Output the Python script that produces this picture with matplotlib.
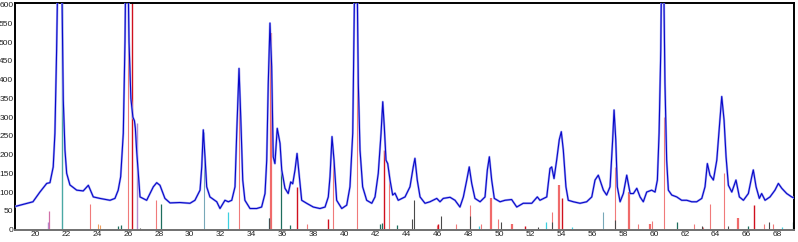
import matplotlib
matplotlib.use("Agg")
import matplotlib.pyplot as plt
import numpy as np

plt.rcParams['font.family'] = ['Liberation Sans', 'DejaVu Sans']

# ---- measured XRD pattern (2theta, counts) ----
two_theta = [18.77, 19.87, 20.32, 20.76, 20.97, 21.18, 21.29, 21.40, 21.58, 21.75, 21.83, 21.94, 22.05,
             22.26, 22.70, 23.12, 23.45, 23.77, 24.20, 24.85, 25.17, 25.38, 25.54, 25.71, 25.82, 25.93,
             26.08, 26.20, 26.33, 26.43, 26.49, 26.57, 26.79, 27.22, 27.65, 27.87, 28.08, 28.40, 28.73,
             29.37, 30.02, 30.34, 30.56, 30.67, 30.78, 30.88, 30.99, 31.10, 31.31, 31.75, 31.96, 32.28,
             32.50, 32.72, 32.93, 33.04, 33.19, 33.30, 33.43, 33.57, 33.90, 34.33, 34.65, 34.87, 34.98,
             35.08, 35.19, 35.30, 35.40, 35.51, 35.66, 35.84, 35.95, 36.16, 36.37, 36.53, 36.66, 36.81,
             36.94, 37.07, 37.24, 37.56, 37.99, 38.42, 38.75, 38.96, 39.07, 39.20, 39.33, 39.50, 39.83,
             40.15, 40.36, 40.54, 40.62, 40.75, 40.90, 41.01, 41.18, 41.44, 41.77, 41.98, 42.19, 42.37,
             42.48, 42.58, 42.69, 42.80, 42.95, 43.12, 43.27, 43.48, 43.92, 44.24, 44.45, 44.56, 44.71,
             44.89, 45.21, 45.53, 45.97, 46.18, 46.39, 46.83, 47.15, 47.47, 47.69, 47.91, 48.07, 48.23,
             48.44, 48.77, 49.09, 49.24, 49.37, 49.52, 49.69, 50.06, 50.38, 50.81, 51.14, 51.56, 52.11,
             52.47, 52.64, 53.08, 53.29, 53.40, 53.55, 53.72, 53.89, 54.02, 54.15, 54.32, 54.47, 54.80,
             55.23, 55.66, 55.99, 56.20, 56.41, 56.52, 56.74, 56.95, 57.17, 57.34, 57.43, 57.54, 57.64,
             57.82, 58.03, 58.25, 58.47, 58.68, 58.90, 59.11, 59.32, 59.54, 59.86, 60.08, 60.23, 60.34,
             60.45, 60.56, 60.72, 60.83, 60.94, 61.16, 61.48, 61.80, 62.13, 62.45, 62.77, 63.10, 63.31,
             63.46, 63.63, 63.85, 64.07, 64.24, 64.39, 64.54, 64.67, 64.82, 65.04, 65.31, 65.53, 65.79,
             66.11, 66.33, 66.43, 66.61, 66.82, 66.97, 67.19, 67.51, 67.83, 68.05, 68.27, 68.59, 68.91,
             69.13]
counts = [62, 74, 100, 123, 125, 167, 257, 480, 950, 620, 346, 212, 150,
          119, 105, 103, 118, 87, 83, 78, 83, 105, 141, 257, 503, 950,
          500, 350, 300, 290, 270, 212, 87, 78, 114, 125, 118, 83, 71,
          72, 70, 78, 96, 105, 167, 266, 194, 114, 87, 74, 56, 78,
          74, 78, 114, 257, 430, 301, 132, 78, 56, 56, 60, 96, 185,
          391, 551, 435, 194, 176, 270, 230, 159, 110, 96, 127, 122, 159,
          203, 150, 78, 70, 60, 56, 60, 87, 141, 248, 185, 78, 56,
          65, 114, 257, 524, 950, 390, 212, 114, 78, 70, 87, 150, 257,
          341, 274, 185, 176, 132, 92, 97, 78, 87, 114, 167, 190, 132,
          87, 70, 74, 83, 74, 83, 86, 78, 60, 87, 132, 167, 123,
          83, 74, 87, 159, 194, 132, 83, 74, 78, 80, 60, 70, 70,
          87, 78, 87, 163, 167, 136, 185, 240, 261, 212, 114, 78, 74,
          70, 74, 87, 132, 145, 132, 105, 92, 114, 240, 319, 240, 114,
          74, 96, 145, 96, 96, 110, 87, 74, 100, 105, 100, 132, 257,
          479, 950, 391, 185, 105, 92, 87, 78, 78, 74, 74, 83, 114,
          176, 145, 132, 185, 274, 355, 292, 194, 118, 100, 132, 87, 78,
          96, 141, 159, 114, 83, 96, 78, 87, 105, 123, 110, 96, 87,
          83]

# ---- reference stick patterns (position, relative intensity) ----
salmon_pos = [23.56, 25.99, 27.82, 33.21, 37.58, 39.28, 40.80, 42.90, 45.97, 47.19, 48.12, 48.86,
              49.91, 53.44, 57.49, 59.00, 59.90, 60.68, 62.62, 63.20, 63.66, 64.56, 67.12, 67.72]
salmon_int = [68, 1000, 78, 430, 16, 194, 1000, 160, 13, 14, 65, 14,
              29, 47, 167, 15, 22, 300, 15, 8, 68, 150, 15, 14]
salmon_thick_pos = [35.24, 49.46, 50.81, 53.87, 58.40, 59.75, 65.46]
salmon_thick_int = [525, 83, 16, 118, 100, 15, 30]
orange_pos = [24.09, 24.20]
orange_int = [16, 12]
red_pos = [26.25, 36.94, 38.96, 42.58, 46.07, 51.67, 54.09, 66.49]
red_int = [1000, 114, 29, 212, 16, 10, 83, 65]
teal_pos = [21.75]
teal_int = [1000]
steel_pos = [30.94, 56.74]
steel_int = [261, 47]
cyan_pos = [32.50, 35.15, 48.72, 53.01, 54.69, 68.27]
cyan_int = [47, 30, 10, 20, 8, 8]
dkgreen_pos = [25.38, 25.54, 28.16, 35.90, 36.48, 42.30, 42.41, 43.38, 61.48, 66.06, 68.98]
dkgreen_int = [10, 13, 68, 159, 12, 15, 18, 12, 20, 10, 20]
grey_pos = [26.79, 35.12, 44.35, 44.50, 46.24, 48.12, 50.12, 52.53, 53.40, 57.49, 63.10, 64.82, 67.47]
grey_int = [5, 30, 29, 78, 36, 36, 20, 8, 20, 25, 10, 10, 20]
lavender_pos = [20.82, 26.57]
lavender_int = [20, 284]
magenta_pos = [20.92]
magenta_int = [50]

x_ticks = list(range(20, 70, 2))
y_ticks = list(range(0, 650, 50))

fig = plt.figure(figsize=(7.98, 2.42), dpi=100)
ax = fig.add_axes([15 / 798, 12.5 / 242, (794.3 - 15) / 798, (229.5 - 2.5) / 242])

sticks = [
    (salmon_pos, salmon_int, "#f07a7a", 0.8),
    (salmon_thick_pos, salmon_thick_int, "#f06a6a", 1.6),
    (orange_pos, orange_int, "#f0a060", 0.8),
    (red_pos, red_int, "#d0101e", 1.0),
    (teal_pos, teal_int, "#4aa8a4", 1.0),
    (steel_pos, steel_int, "#78a8b8", 0.8),
    (cyan_pos, cyan_int, "#3cd0e0", 0.9),
    (dkgreen_pos, dkgreen_int, "#1e6e5e", 0.9),
    (grey_pos, grey_int, "#4a4a4a", 0.8),
    (lavender_pos, lavender_int, "#b48cd0", 1.0),
    (magenta_pos, magenta_int, "#d070a8", 0.9),
]
for pos, inten, col, lw in sticks:
    ax.vlines(pos, 0, inten, colors=col, linewidth=lw, zorder=2)

ax.plot(two_theta, counts, color="#a4a8f6", linewidth=1.6, zorder=3)
ax.plot(two_theta, counts, color="#0808c8", linewidth=0.8, zorder=4)

ax.set_xlim(18.71, 69.08)
ax.set_ylim(0, 606)
ax.set_xticks(x_ticks)
ax.set_xticklabels([str(v) for v in x_ticks])
ax.set_yticks(y_ticks)
ax.set_yticklabels([str(v) for v in y_ticks])
ax.tick_params(axis="both", labelsize=6, length=0, width=0.6, pad=1.2, colors="#222222")

for side in ["left", "top", "right"]:
    ax.spines[side].set_color("black")
    ax.spines[side].set_linewidth(1.4)
ax.spines["bottom"].set_color("#707070")
ax.spines["bottom"].set_linewidth(1.4)

fig.savefig("out.png", dpi=100)
